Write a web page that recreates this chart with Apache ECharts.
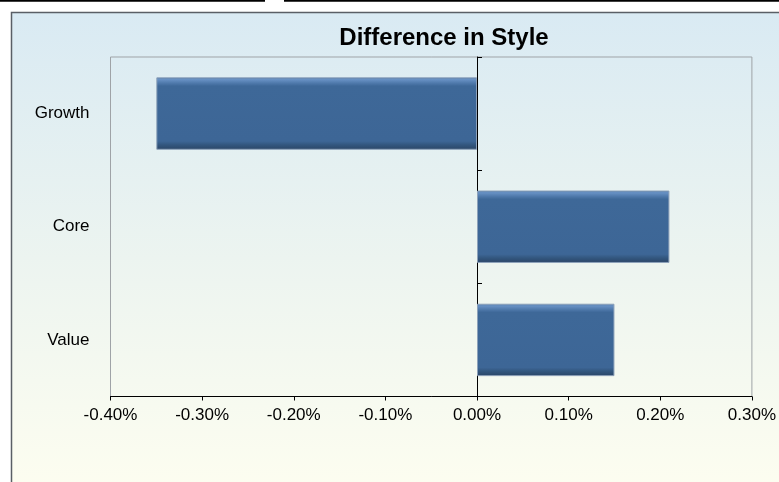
<!DOCTYPE html>
<html>
<head>
<meta charset="utf-8">
<script src="https://cdn.jsdelivr.net/npm/echarts@6/dist/echarts.min.js"></script>
<style>
html,body{margin:0;padding:0;background:#fff;}
#chart{width:779px;height:482px;}
</style>
</head>
<body>
<div id="chart"></div>
<script>
const titleText = 'Difference in Style';
const categories = ['Value', 'Core', 'Growth'];
const differences = [0.15, 0.21, -0.35];
const axisMin = -0.4;
const axisMax = 0.3;
const axisInterval = 0.1;

const chart = echarts.init(document.getElementById('chart'), null, {renderer: 'canvas'});
const fontFamily = '"Liberation Sans", Arial, sans-serif';

const barFill = new echarts.graphic.LinearGradient(0, 0, 0, 1, [
  {offset: 0, color: '#4a72a3'},
  {offset: 0.03, color: '#6891c4'},
  {offset: 0.08, color: '#4f79ab'},
  {offset: 0.12, color: '#3e6898'},
  {offset: 0.88, color: '#3d6696'},
  {offset: 0.93, color: '#33577f'},
  {offset: 1, color: '#2a4566'}
]);

const option = {
  animation: false,
  backgroundColor: '#ffffff',
  graphic: [
    {type: 'rect', z: -100, shape: {x: 11.5, y: 12.5, width: 800, height: 490},
     style: {fill: new echarts.graphic.LinearGradient(0, 0, 0, 1, [
       {offset: 0, color: '#d9eaf3'},
       {offset: 0.5, color: '#ecf4f0'},
       {offset: 1, color: '#fefef0'}
     ]), stroke: '#5a5f66', lineWidth: 1.5}},
    {type: 'rect', z: -100, shape: {x: 0, y: 0, width: 265, height: 1.7}, style: {fill: '#000'}},
    {type: 'rect', z: -100, shape: {x: 284, y: 0, width: 500, height: 1.7}, style: {fill: '#000'}}
  ],
  title: {
    text: titleText,
    left: 439,
    textAlign: 'center',
    top: 21,
    textStyle: {fontFamily: fontFamily, fontWeight: 'bold', fontSize: 24, color: '#000'}
  },
  grid: {
    left: 110.5, right: 24.5, top: 57, bottom: 85.5,
    show: true, borderColor: '#9fa3a7', borderWidth: 1, backgroundColor: 'transparent'
  },
  xAxis: {
    type: 'value',
    min: axisMin, max: axisMax, interval: axisInterval,
    axisLine: {show: true, onZero: false, lineStyle: {color: '#000', width: 1}},
    axisTick: {show: true, length: 4, lineStyle: {color: '#000'}},
    splitLine: {show: false},
    axisLabel: {
      margin: 10, color: '#000', fontSize: 17, fontFamily: fontFamily,
      formatter: v => v.toFixed(2) + '%'
    }
  },
  yAxis: [
    {
      type: 'category', data: categories, position: 'left',
      axisLine: {show: false, onZero: false},
      axisTick: {show: false},
      axisLabel: {margin: 21, color: '#000', fontSize: 17, fontFamily: fontFamily}
    },
    {
      type: 'category', data: categories,
      axisLine: {show: true, onZero: true, lineStyle: {color: '#000', width: 1}},
      axisTick: {show: true, length: 5, inside: false, lineStyle: {color: '#000'}},
      axisLabel: {show: false}
    }
  ],
  series: [{
    type: 'bar',
    yAxisIndex: 0,
    data: differences,
    barCategoryGap: '36%',
    itemStyle: {color: barFill, borderColor: '#8ea2ba', borderWidth: 1}
  }]
};
chart.setOption(option);
</script>
</body>
</html>
